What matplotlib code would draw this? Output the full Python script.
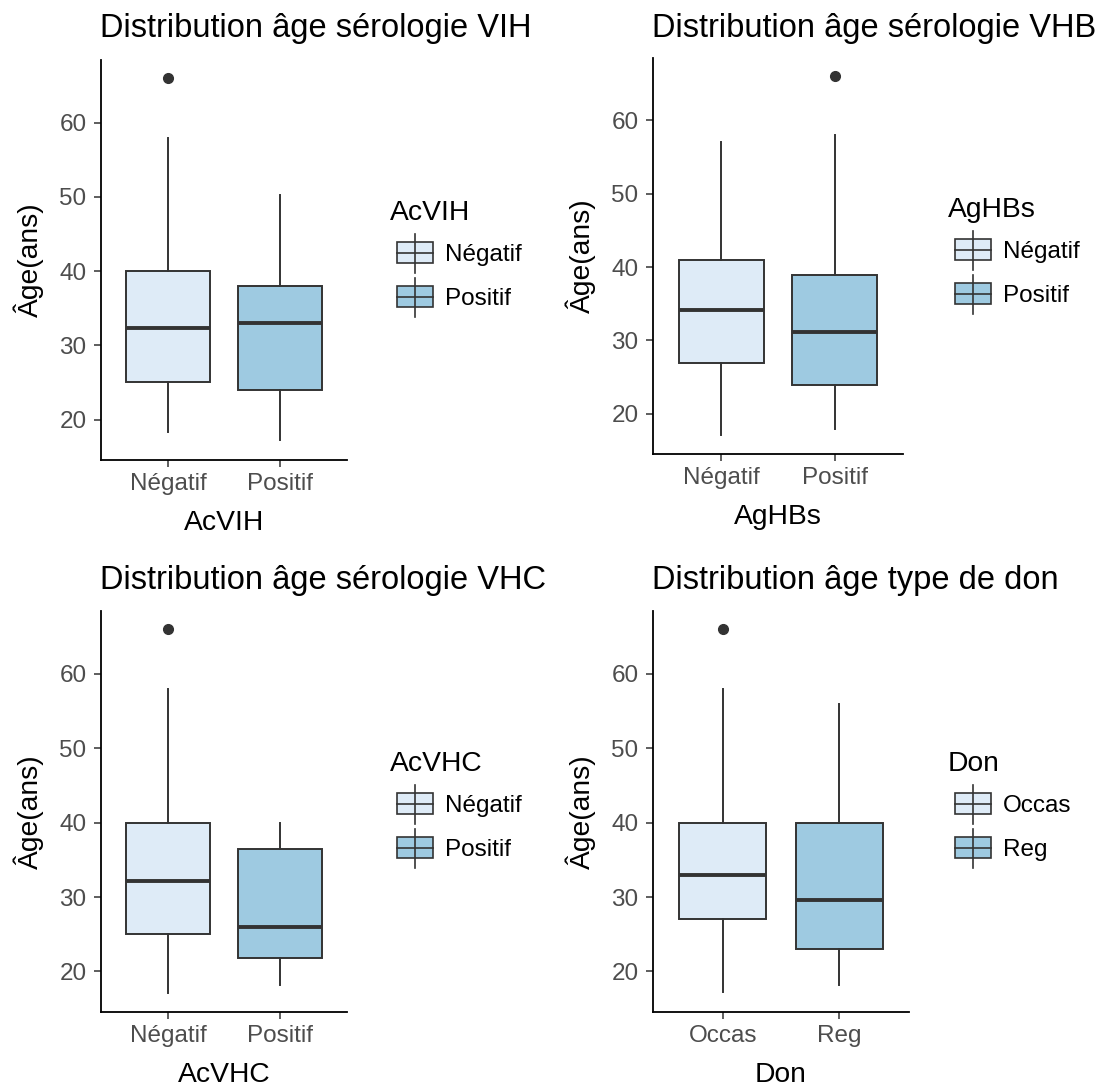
import matplotlib
matplotlib.use("Agg")
import matplotlib.pyplot as plt
from matplotlib.patches import Rectangle
from matplotlib.lines import Line2D

plt.rcParams['font.family'] = ['Liberation Sans', 'DejaVu Sans']

W, H = 1101, 1090
FILL = ['#DEEBF7', '#9ECAE1']
DARK = '#333333'
TICK_GREY = '#4D4D4D'

# ages (years): whisker low, Q1, median, Q3, whisker high, outliers
vih_groups = ['Négatif', 'Positif']
vih_low = [18.3, 17.3]
vih_q1 = [25.1, 24.0]
vih_med = [32.3, 33.0]
vih_q3 = [40.0, 38.0]
vih_high = [58.0, 50.2]
vih_out = [[66], []]

vhb_groups = ['Négatif', 'Positif']
vhb_low = [17.2, 18.0]
vhb_q1 = [26.9, 23.9]
vhb_med = [34.1, 31.2]
vhb_q3 = [41.0, 38.9]
vhb_high = [57.0, 58.0]
vhb_out = [[], [66]]

vhc_groups = ['Négatif', 'Positif']
vhc_low = [17.1, 18.2]
vhc_q1 = [25.0, 21.8]
vhc_med = [32.2, 26.0]
vhc_q3 = [40.0, 36.4]
vhc_high = [58.0, 40.0]
vhc_out = [[66], []]

don_groups = ['Occas', 'Reg']
don_low = [17.2, 18.2]
don_q1 = [27.0, 23.0]
don_med = [33.0, 29.6]
don_q3 = [40.0, 40.0]
don_high = [58.0, 56.0]
don_out = [[66], []]


def make_stats(low, q1, med, q3, high, out):
    return [dict(whislo=a, q1=b, med=c, q3=d, whishi=e, fliers=f)
            for a, b, c, d, e, f in zip(low, q1, med, q3, high, out)]


def fx(x):
    return x / W


def fy(y):
    return 1 - y / H


def draw_panel(fig, box, title, title_y, var, groups, stats, leg_xy):
    left, top, right, bottom = box
    w, h = right - left, bottom - top
    ax = fig.add_axes([fx(left), fy(bottom), w / W, h / H])
    bp = ax.bxp(stats, positions=[1, 2], widths=0.75, patch_artist=True,
                showcaps=False,
                boxprops=dict(edgecolor=DARK, linewidth=1.4),
                whiskerprops=dict(color=DARK, linewidth=1.4),
                medianprops=dict(color=DARK, linewidth=2.8),
                flierprops=dict(marker='o', markerfacecolor=DARK,
                                markeredgecolor=DARK, markersize=7))
    for patch, c in zip(bp['boxes'], FILL):
        patch.set_facecolor(c)

    ax.set_xlim(0.4, 2.6)
    ax.set_ylim(14.55, 68.45)
    ax.set_yticks([20, 30, 40, 50, 60])
    ax.set_xticks([1, 2])
    ax.set_xticklabels(groups)
    for s in ['top', 'right']:
        ax.spines[s].set_visible(False)
    for s in ['left', 'bottom']:
        ax.spines[s].set_linewidth(1.3)
        ax.spines[s].set_color('black')
    ax.tick_params(axis='both', length=5, width=1.1, color=DARK,
                   labelsize=17.5, labelcolor=TICK_GREY)
    ax.tick_params(axis='x', pad=4.5)
    ax.tick_params(axis='y', pad=5.5)

    # axis titles placed at the offsets measured in the reference
    ax.set_xlabel(var, fontsize=20.3, color='black')
    ax.xaxis.set_label_coords(0.5, -50 / h)
    ax.set_ylabel('Âge(ans)', fontsize=20.3, color='black')
    ax.yaxis.set_label_coords(-57 / w, 0.5)

    fig.text(fx(left - 1), fy(title_y), title, fontsize=23.5,
             ha='left', va='baseline', color='black')

    # legend drawn like a ggplot boxplot key
    x0, y0 = leg_xy
    fig.text(fx(x0), fy(y0), var, fontsize=20.3, ha='left', va='baseline')
    for i, (lab, c) in enumerate(zip(groups, FILL)):
        off = y0 + 44 * i
        fig.add_artist(Line2D([fx(x0 + 25)] * 2, [fy(off + 14), fy(off + 53)],
                              color=DARK, linewidth=1.2, transform=fig.transFigure))
        fig.add_artist(Rectangle((fx(x0 + 7), fy(off + 43)), 36 / W, 21 / H,
                                 facecolor=c, edgecolor=DARK, linewidth=1.2,
                                 transform=fig.transFigure))
        fig.add_artist(Line2D([fx(x0 + 7), fx(x0 + 43)], [fy(off + 32.5)] * 2,
                              color=DARK, linewidth=1.2, transform=fig.transFigure))
        fig.text(fx(x0 + 55), fy(off + 32.5), lab, fontsize=17.5,
                 ha='left', va='center_baseline')
    return ax


fig = plt.figure(figsize=(W / 100, H / 100), dpi=100, facecolor='white')

draw_panel(fig, (101, 60, 347, 460), 'Distribution âge sérologie VIH', 37, 'AcVIH',
           vih_groups, make_stats(vih_low, vih_q1, vih_med, vih_q3, vih_high, vih_out),
           (390, 220))
draw_panel(fig, (653, 58, 903, 454), 'Distribution âge sérologie VHB', 37, 'AgHBs',
           vhb_groups, make_stats(vhb_low, vhb_q1, vhb_med, vhb_q3, vhb_high, vhb_out),
           (948, 217))
draw_panel(fig, (101, 611, 347, 1012), 'Distribution âge sérologie VHC', 589, 'AcVHC',
           vhc_groups, make_stats(vhc_low, vhc_q1, vhc_med, vhc_q3, vhc_high, vhc_out),
           (390, 771))
draw_panel(fig, (653, 611, 909, 1012), 'Distribution âge type de don', 589, 'Don',
           don_groups, make_stats(don_low, don_q1, don_med, don_q3, don_high, don_out),
           (948, 771))

fig.savefig('out.png', dpi=100, facecolor='white')
